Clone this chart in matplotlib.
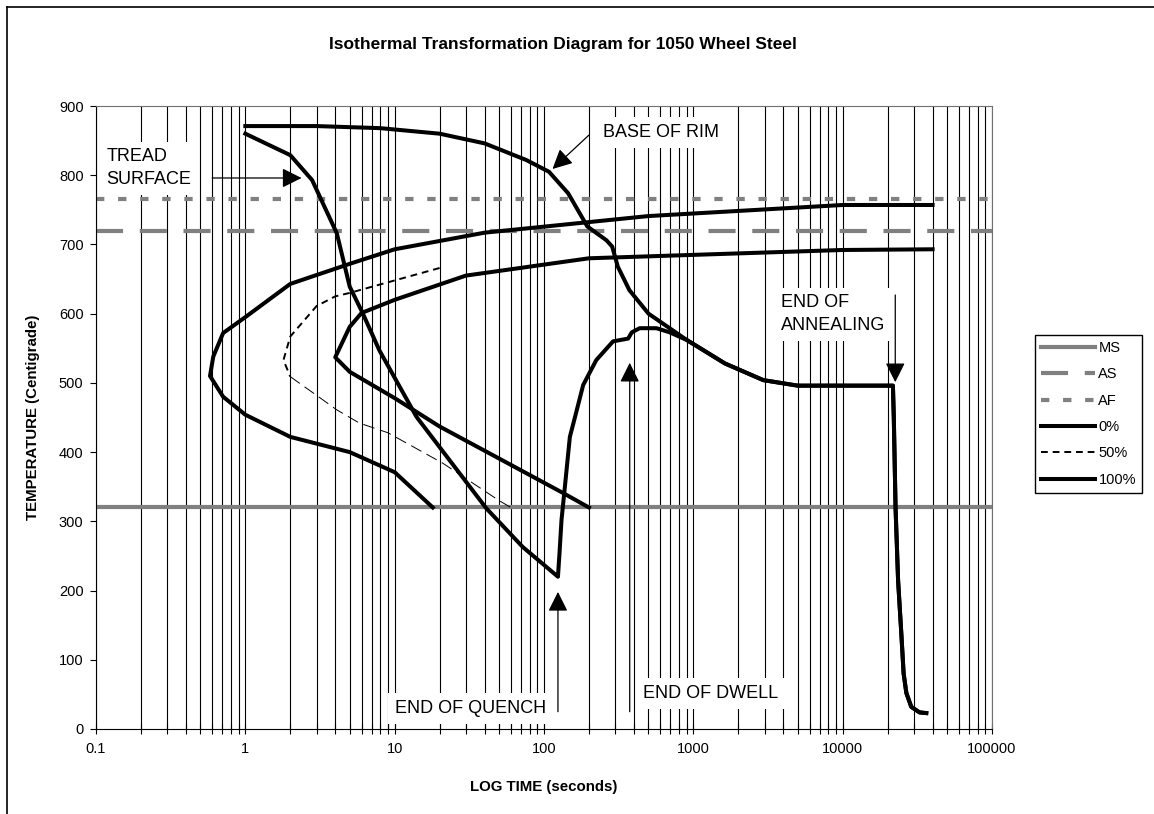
import numpy as np
import matplotlib
matplotlib.use("Agg")
import matplotlib.pyplot as plt
from matplotlib.lines import Line2D
from matplotlib.ticker import LogLocator, FuncFormatter, NullFormatter, FixedLocator

plt.rcParams['font.family'] = ['Liberation Sans', 'DejaVu Sans']

# critical temperatures (deg C), drawn across the whole time range
crit_t = [0.1, 100000]
ms_T = 320
as_T = 720
af_T = 765

# transformation curves (time s, temperature C)
pct0_t = [40000, 10000, 500, 40, 10, 5, 2, 1, 0.71, 0.61, 0.58, 0.71, 1, 2, 5, 10, 18]
pct0_T = [757, 757, 741, 717, 693, 672, 643, 595, 572, 538, 510, 480, 454, 422, 400, 371, 320]

pct50_hi_t = [20, 10, 5, 4, 3, 2, 1.8, 2]
pct50_hi_T = [666, 648, 630, 625, 611, 567, 533, 509]
pct50_lo_t = [2, 3, 4.1, 5.8, 9, 21, 50, 60]
pct50_lo_T = [509, 482, 461, 442, 428, 384, 330, 320]

pct100_t = [40000, 10000, 200, 30, 10, 6, 5, 4, 5, 10, 20, 134, 200]
pct100_T = [693, 692, 680, 655, 620, 601, 581, 537, 516, 478, 437, 341, 320]

# cooling paths
tread_t = [1, 2, 2.8, 4.1, 5, 6.1, 7.9, 14, 41, 72, 124, 127, 131, 138, 149, 161, 183, 224, 290, 366, 387, 437, 566, 695]
tread_T = [860, 829, 793, 716, 639, 601, 547, 451, 319, 263, 220, 254, 302, 350, 422, 450, 497, 533, 560, 564, 573, 579, 579, 573]
rim_t = [1, 3, 8, 20, 40, 76, 108, 145, 195, 262, 286, 312, 373, 501]
rim_T = [871, 871, 868, 860, 846, 822, 805, 774, 726, 706, 697, 668, 634, 600]
tail_t = [903, 1630, 2940, 5000, 21700, 22000, 22600, 23500, 24700, 25600, 26700, 28800, 32700, 36300]
tail_T = [562, 528, 504, 496, 496, 450, 320, 215, 138, 80, 52, 32, 24, 23]

xticks = [0.1, 1, 10, 100, 1000, 10000, 100000]
yticks = list(range(0, 901, 100))

fig = plt.figure(figsize=(11.54, 8.14), dpi=100)
ax = fig.add_axes([96 / 1154, 85 / 814, 896 / 1154, 623 / 814])

ax.set_xscale('log')
ax.set_xlim(0.1, 100000)
ax.set_ylim(0, 900)

ax.xaxis.set_major_locator(FixedLocator(xticks))
ax.xaxis.set_minor_locator(LogLocator(base=10, subs=np.arange(2, 10)))
ax.xaxis.set_major_formatter(FuncFormatter(lambda v, p: '%g' % v))
ax.xaxis.set_minor_formatter(NullFormatter())
ax.set_yticks(yticks)
ax.grid(True, which='both', axis='x', color='black', lw=0.8, zorder=0)
ax.set_axisbelow(True)

ax.tick_params(axis='x', which='both', direction='inout', length=7, width=0.8, labelsize=10.5, pad=6)
ax.tick_params(axis='y', direction='out', length=4, width=0.8, labelsize=10.5, pad=5)
for s in ['top', 'right']:
    ax.spines[s].set_color('#707070')
for s in ['left', 'bottom']:
    ax.spines[s].set_color('black')

gray = '#808080'
ax.plot(crit_t, [ms_T, ms_T], color=gray, lw=3, label='MS', zorder=2)
ax.plot(crit_t, [as_T, as_T], color=gray, lw=3, dashes=(6.5, 4), label='AS', zorder=2)
ax.plot(crit_t, [af_T, af_T], color=gray, lw=3, dashes=(2, 3.3), label='AF', zorder=2)

ax.plot(pct0_t, pct0_T, color='black', lw=2.9, label='0%', zorder=3)
ax.plot(pct50_hi_t, pct50_hi_T, color='black', lw=1.4, dashes=(3.5, 2.5), label='50%', zorder=3)
ax.plot(pct50_lo_t, pct50_lo_T, color='black', lw=0.7, dashes=(12, 6), zorder=3)
ax.plot(pct100_t, pct100_T, color='black', lw=2.9, label='100%', zorder=3)

ax.plot(tread_t + tail_t, tread_T + tail_T, color='black', lw=2.9, zorder=3)
ax.plot(rim_t + tail_t, rim_T + tail_T, color='black', lw=2.9, zorder=3)

box = dict(facecolor='white', edgecolor='none', pad=5)
arrow = dict(arrowstyle='-|>,head_length=1.2,head_width=0.6', color='black', lw=0.9,
             mutation_scale=10, shrinkA=0, shrinkB=0)
afs = 13

ax.text(0.117, 810, 'TREAD\nSURFACE', fontsize=afs, ha='left', va='center', linespacing=1.45, bbox=box, zorder=4)
ax.annotate('', xy=(2.38, 796), xytext=(0.6, 796), arrowprops=arrow, zorder=4)

ax.text(248, 862, 'BASE OF RIM', fontsize=afs, ha='left', va='center', bbox=box, zorder=4)
ax.annotate('', xy=(114, 809), xytext=(200, 858), arrowprops=arrow, zorder=4)

ax.text(3850, 599, 'END OF\nANNEALING', fontsize=afs, ha='left', va='center', linespacing=1.45, bbox=box, zorder=4)
ax.annotate('', xy=(22500, 501), xytext=(22500, 627), arrowprops=arrow, zorder=4)

ax.text(10, 30, 'END OF QUENCH', fontsize=afs, ha='left', va='center', bbox=box, zorder=4)
ax.annotate('', xy=(124, 198), xytext=(124, 25), arrowprops=arrow, zorder=4)

ax.text(458, 51, 'END OF DWELL', fontsize=afs, ha='left', va='center', bbox=box, zorder=4)
ax.annotate('', xy=(375, 529), xytext=(375, 25), arrowprops=arrow, zorder=4)

ax.set_xlabel('LOG TIME (seconds)', fontsize=10.8, fontweight='bold')
ax.set_ylabel('TEMPERATURE (Centigrade)', fontsize=10.8, fontweight='bold')
ax.xaxis.set_label_coords(0.5, -0.082)
ax.yaxis.set_label_coords(-0.0625, 0.5)

fig.text(563 / 1154, 1 - 45 / 814, 'Isothermal Transformation Diagram for 1050 Wheel Steel',
         fontsize=12.5, fontweight='bold', ha='center', va='center')

leg = ax.legend(loc='upper left', bbox_to_anchor=(1035 / 1154, 1 - 335 / 814),
                bbox_transform=fig.transFigure, borderaxespad=0, fontsize=10.5,
                fancybox=False, edgecolor='black', framealpha=1, handlelength=3.7,
                handletextpad=0.25, labelspacing=0.85, borderpad=0.4)
leg.get_frame().set_linewidth(1)

# outer chart frame
fig.add_artist(Line2D([7 / 1154, 7 / 1154], [0, 1 - 7 / 814], color='black', lw=1.2))
fig.add_artist(Line2D([7 / 1154, 1], [1 - 7 / 814, 1 - 7 / 814], color='black', lw=1.2))

fig.savefig('out.png', dpi=100)
